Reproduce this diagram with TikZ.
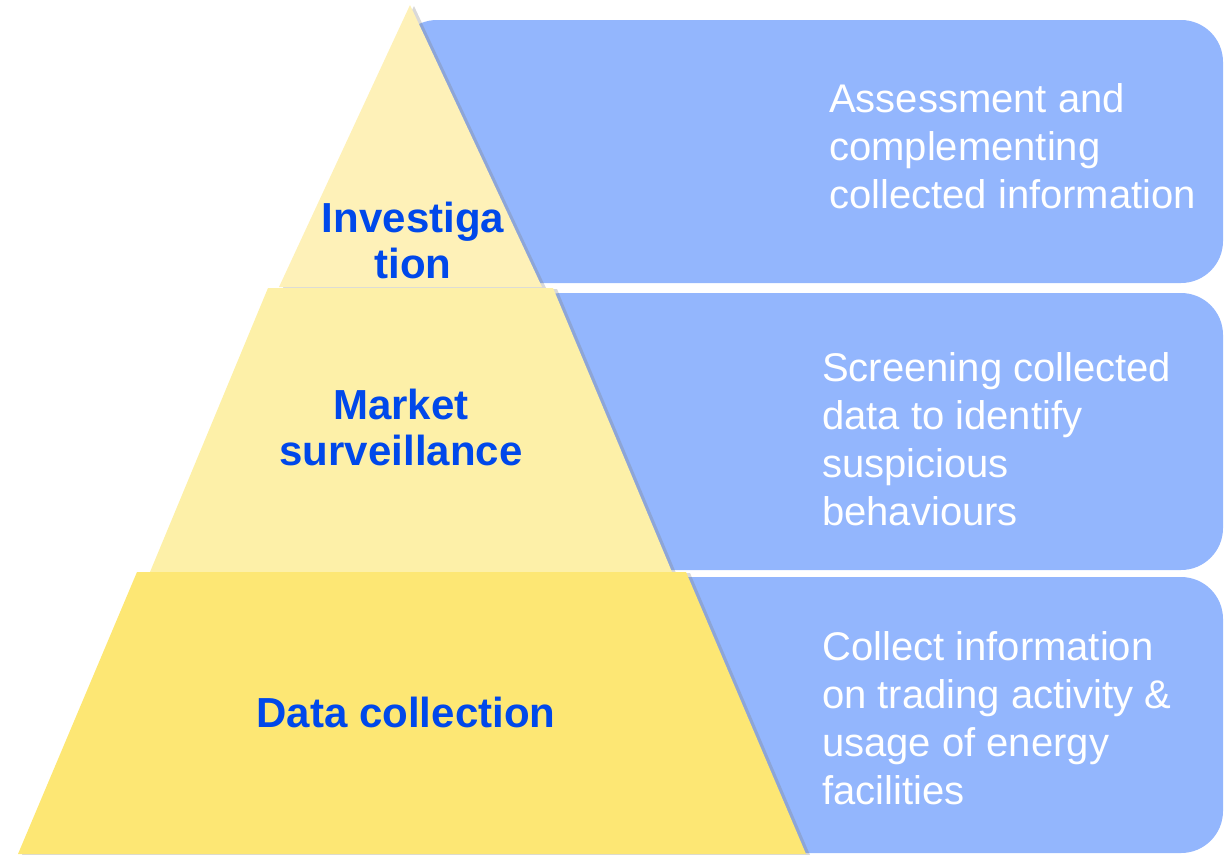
\documentclass[tikz,border=0pt]{standalone}
\usepackage{fontspec}
\setmainfont{Liberation Sans}
\usepackage{tikz}
\usetikzlibrary{shadows}
\definecolor{panelblue}{RGB}{147,182,253}
\definecolor{tiertop}{RGB}{254,241,184}
\definecolor{tiermid}{RGB}{253,240,168}
\definecolor{tierbase}{RGB}{253,231,116}
\definecolor{labelblue}{RGB}{0,72,234}

\begin{document}
\begin{tikzpicture}[x=1pt,y=-1pt,
    panel/.style={fill=panelblue,rounded corners=42pt},
    tier/.style={drop shadow={shadow xshift=4pt,shadow yshift=-1pt,opacity=.3}},
    tierlabel/.style={font=\bfseries\fontsize{42}{46}\selectfont,text=labelblue,align=center,inner sep=0pt,anchor=base},
    panellabel/.style={font=\fontsize{40}{48}\selectfont,text=white,align=left,inner sep=0pt,anchor=base west}]
    \useasboundingbox (0,0) rectangle (1230,854);
    % panels behind the pyramid
    \fill[panel] (395,20) rectangle (1223,283);
    \fill[panel] (520,293) rectangle (1223,570);
    \fill[panel] (650,577) rectangle (1223,853);
    % pyramid tiers
    \fill[tier,fill=tiertop] (410,5) -- (542,287) -- (279,287) -- cycle;
    \fill[tier,fill=tiermid] (268,288) -- (553,288) -- (672,572) -- (150,572) -- cycle;
    \fill[tier,fill=tierbase] (137,572) -- (686,572) -- (806,854) -- (18,854) -- cycle;
    % labels (anchored at the last baseline)
    \node[tierlabel] (investigation) at (413,278) {Investiga\\tion};
    \node[tierlabel] (surveillance) at (401,465) {Market\\surveillance};
    \node[tierlabel] (collection) at (406,727) {Data collection};
    \node[panellabel] (assessment) at (829,208) {Assessment and\\complementing\\collected information};
    \node[panellabel] (screening) at (822,525) {Screening collected\\data to identify\\suspicious\\behaviours};
    \node[panellabel] (collecting) at (822,804) {Collect information\\on trading activity \&\\usage of energy\\facilities};
\end{tikzpicture}
\end{document}
